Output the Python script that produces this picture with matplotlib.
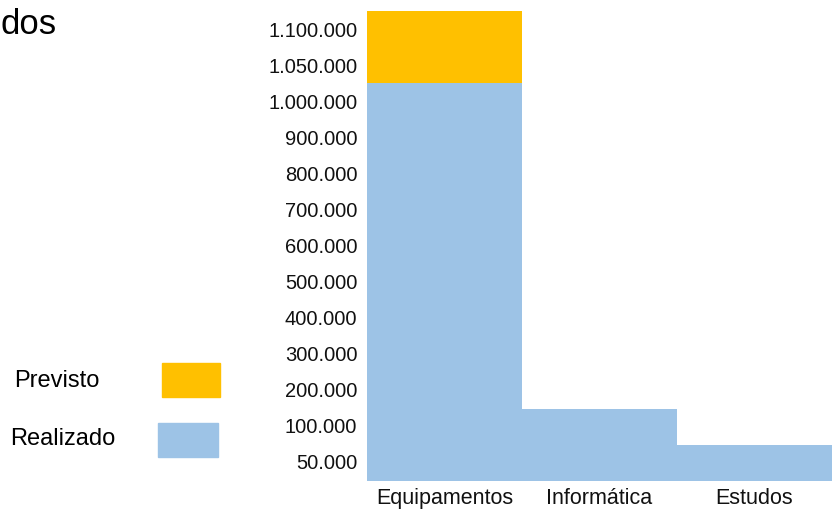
import numpy as np
import matplotlib
matplotlib.use("Agg")
import matplotlib.pyplot as plt
from matplotlib.patches import Rectangle

plt.rcParams['font.family'] = ['Liberation Sans', 'DejaVu Sans']

categorias = ['Equipamentos', 'Informática', 'Estudos']
previsto = [1125000, 0, 0]
realizado = [1025000, 145000, 72000]

# ticks of the (non-linear) value axis, drawn evenly spaced
tick_vals = [50000, 100000, 200000, 300000, 400000, 500000, 600000,
             700000, 800000, 900000, 1000000, 1050000, 1100000]
tick_labels = ['50.000', '100.000', '200.000', '300.000', '400.000', '500.000',
               '600.000', '700.000', '800.000', '900.000', '1.000.000',
               '1.050.000', '1.100.000']

scale_vals = np.array([0] + tick_vals + [1150000], dtype=float)
scale_pos = np.concatenate([[-0.56], np.arange(len(tick_vals) + 1)])

def fwd(v):
    return np.interp(v, scale_vals, scale_pos)

def inv(p):
    return np.interp(p, scale_pos, scale_vals)

amarelo = '#FFC000'
azul = '#9DC3E6'

fig = plt.figure(figsize=(8.32, 5.10), dpi=100)
ax = fig.add_axes([367/832, 1 - 482/510, 1 - 367/832, (482 - 12)/510])

x = np.arange(len(categorias))
ax.bar(x, previsto, width=1.0, color=amarelo)
ax.bar(x, realizado, width=1.0, color=azul)

ax.set_yscale('function', functions=(fwd, inv))
ax.set_ylim(0, 1125000)
ax.set_xlim(-0.5, 2.5)
ax.set_yticks(tick_vals)
ax.set_yticklabels(tick_labels, fontsize=14.5)
ax.set_yticks([], minor=True)
ax.set_xticks(x)
ax.set_xticklabels(categorias, fontsize=15.5)
ax.tick_params(axis='y', length=0, pad=7, colors='#111111')
ax.tick_params(axis='x', length=0, pad=4, colors='#111111')
for s in ax.spines.values():
    s.set_visible(False)

# title fragment
fig.text(0, 1 - 24/510, 'dos', fontsize=25, va='center', ha='left')

# legend
fig.text(14/832, 1 - 381/510, 'Previsto', fontsize=17, va='center', ha='left')
fig.add_artist(Rectangle((162/832, 1 - 398/510), 58/832, 34/510,
                         transform=fig.transFigure, color=amarelo))
fig.text(10/832, 1 - 439/510, 'Realizado', fontsize=17, va='center', ha='left')
fig.add_artist(Rectangle((158/832, 1 - 458/510), 60/832, 34/510,
                         transform=fig.transFigure, color=azul))

fig.savefig('out.png', dpi=100)
